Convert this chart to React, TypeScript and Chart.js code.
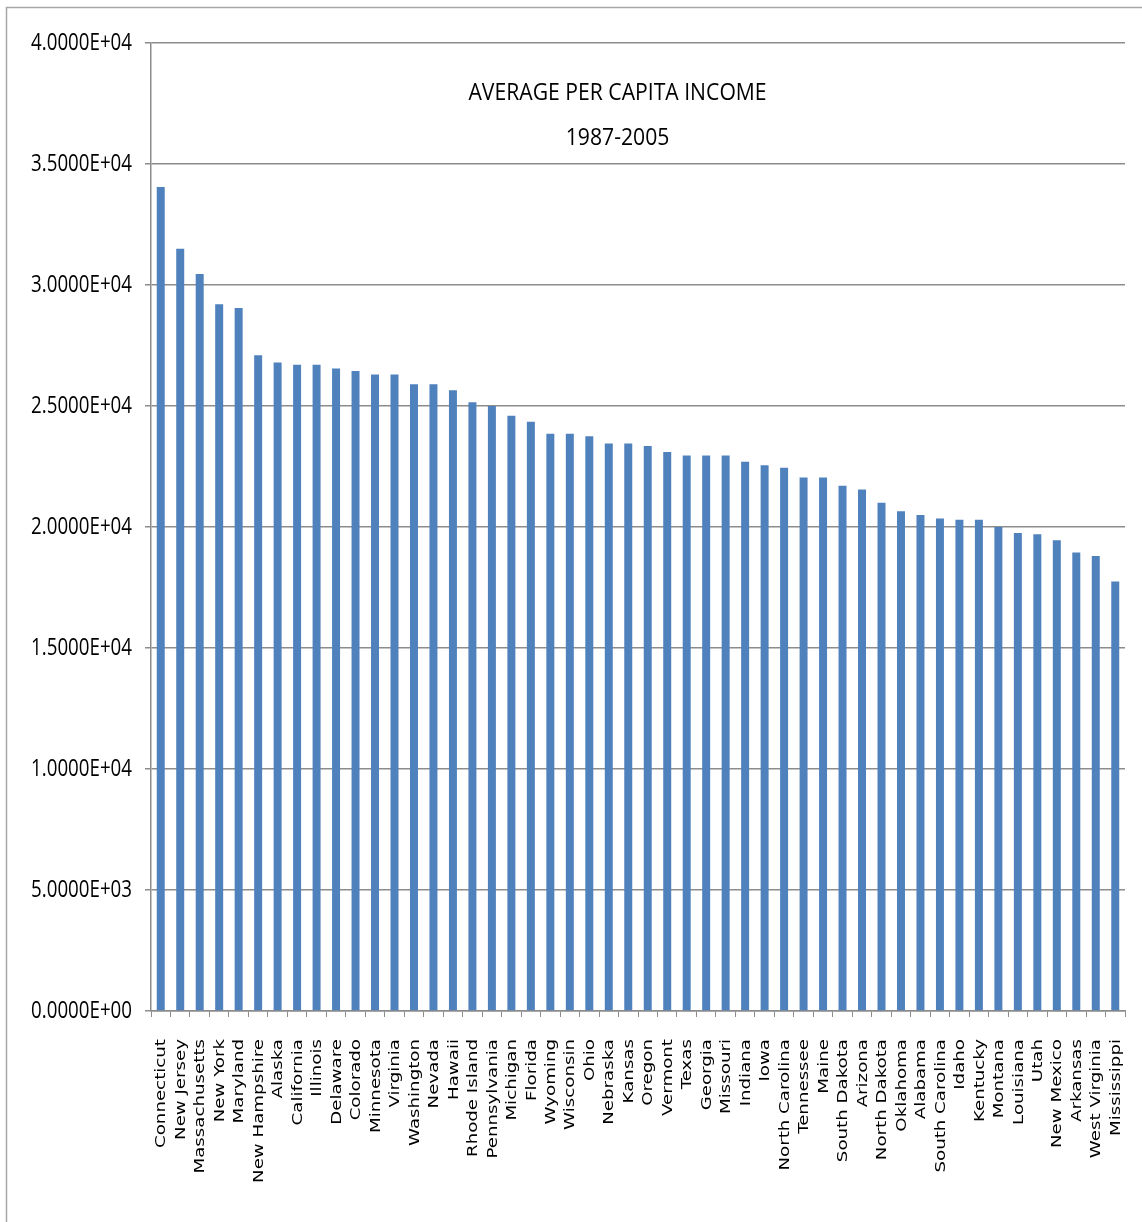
import React, { useEffect, useRef } from "react";
import { Chart, registerables } from "chart.js";

Chart.register(...registerables);

const states: string[] = [
  "Connecticut", "New Jersey", "Massachusetts", "New York", "Maryland",
  "New Hampshire", "Alaska", "California", "Illinois", "Delaware",
  "Colorado", "Minnesota", "Virginia", "Washington", "Nevada",
  "Hawaii", "Rhode Island", "Pennsylvania", "Michigan", "Florida",
  "Wyoming", "Wisconsin", "Ohio", "Nebraska", "Kansas",
  "Oregon", "Vermont", "Texas", "Georgia", "Missouri",
  "Indiana", "Iowa", "North Carolina", "Tennessee", "Maine",
  "South Dakota", "Arizona", "North Dakota", "Oklahoma", "Alabama",
  "South Carolina", "Idaho", "Kentucky", "Montana", "Louisiana",
  "Utah", "New Mexico", "Arkansas", "West Virginia", "Mississippi",
];

const avgIncome: number[] = [
  34050, 31500, 30450, 29200, 29050,
  27100, 26800, 26700, 26700, 26550,
  26450, 26300, 26300, 25900, 25900,
  25650, 25150, 25000, 24600, 24350,
  23850, 23850, 23750, 23450, 23450,
  23350, 23100, 22950, 22950, 22950,
  22700, 22550, 22450, 22050, 22050,
  21700, 21550, 21000, 20650, 20500,
  20350, 20300, 20300, 20000, 19750,
  19700, 19450, 18950, 18800, 17750,
];

const titleLines: string[] = ["AVERAGE PER CAPITA INCOME", "1987-2005"];

const Y_MIN = 0;
const Y_MAX = 40000;
const Y_STEP = 5000;

const labelFont = '"Open Sans", sans-serif';
const catFont = '"DejaVu Sans", sans-serif';

function sci(v: number): string {
  if (v === 0) return "0.0000E+00";
  const exp = Math.floor(Math.log10(Math.abs(v)));
  const mant = v / Math.pow(10, exp);
  const sign = exp < 0 ? "-" : "+";
  const e = String(Math.abs(exp)).padStart(2, "0");
  return mant.toFixed(4) + "E" + sign + e;
}

// Draws text with a horizontal squeeze/stretch along its own baseline.
function scaledText(
  ctx: CanvasRenderingContext2D,
  text: string,
  x: number,
  y: number,
  sx: number,
  align: CanvasTextAlign,
  rotate = 0
) {
  ctx.save();
  ctx.translate(x, y);
  if (rotate) ctx.rotate(rotate);
  ctx.scale(sx, 1);
  ctx.textAlign = align;
  ctx.fillText(text, 0, 0);
  ctx.restore();
}

const framePlugin = {
  id: "frameAndText",
  beforeDraw(chart: any) {
    const { ctx, width, height } = chart;
    ctx.save();
    ctx.fillStyle = "#ffffff";
    ctx.fillRect(0, 0, width, height);
    ctx.strokeStyle = "#a6a6a6";
    ctx.lineWidth = 1.5;
    ctx.strokeRect(6.5, 7.5, width + 10, height + 10);
    ctx.restore();
  },
  afterDraw(chart: any) {
    const { ctx, chartArea, scales } = chart;
    ctx.save();
    ctx.fillStyle = "#000000";
    ctx.textBaseline = "middle";

    // chart title, inside the plot area
    const cx = chartArea.left + (chartArea.right - chartArea.left) * 0.479;
    ctx.font = `23px ${labelFont}`;
    scaledText(ctx, titleLines[0], cx, chartArea.top + 50, 0.92, "center");
    scaledText(ctx, titleLines[1], cx, chartArea.top + 95, 0.92, "center");

    // value axis labels in scientific notation
    const ys = scales.y;
    ctx.font = `24px ${labelFont}`;
    ys.ticks.forEach((t: any) => {
      const py = ys.getPixelForValue(t.value);
      scaledText(ctx, sci(t.value), chartArea.left - 19, py, 0.78, "right");
    });

    // category labels, rotated to read bottom-to-top
    const xs = scales.x;
    ctx.font = `14px ${catFont}`;
    states.forEach((name, i) => {
      const px = xs.getPixelForValue(i);
      scaledText(ctx, name, px + 1, chartArea.bottom + 28, 1.3, "right", -Math.PI / 2);
    });
    ctx.restore();
  },
};

export default function App() {
  const canvasRef = useRef<HTMLCanvasElement | null>(null);

  useEffect(() => {
    document.body.style.margin = "0";
    const canvas = canvasRef.current;
    if (!canvas) return;
    const chart = new Chart(canvas, {
      type: "bar",
      data: {
        labels: states,
        datasets: [
          {
            label: "Average per capita income",
            data: avgIncome,
            backgroundColor: "#4f81bd",
            categoryPercentage: 1,
            barPercentage: 0.41,
          },
        ],
      },
      plugins: [framePlugin],
      options: {
        animation: false,
        responsive: false,
        maintainAspectRatio: false,
        layout: { padding: { left: 0, right: 17, top: 43, bottom: 0 } },
        plugins: {
          legend: { display: false },
          title: { display: false },
          tooltip: { enabled: false },
        },
        scales: {
          x: {
            afterFit: (scale: any) => {
              scale.height = 211;
            },
            grid: {
              offset: true,
              drawOnChartArea: false,
              drawTicks: true,
              tickLength: 6,
              color: "#8c8c8c",
            },
            border: { display: true, color: "#8c8c8c", width: 1.5 },
            ticks: { display: false, autoSkip: false },
          },
          y: {
            min: Y_MIN,
            max: Y_MAX,
            afterFit: (scale: any) => {
              scale.width = 151;
            },
            grid: {
              color: "#8c8c8c",
              lineWidth: 1.5,
              drawTicks: true,
              tickLength: 6,
            },
            border: { display: true, color: "#8c8c8c", width: 1.5 },
            ticks: { display: false, stepSize: Y_STEP },
          },
        },
      },
    });
    return () => chart.destroy();
  }, []);

  return (
    <div style={{ width: 1142, height: 1222 }}>
      <canvas ref={canvasRef} width={1142} height={1222} style={{ display: "block" }} />
    </div>
  );
}
